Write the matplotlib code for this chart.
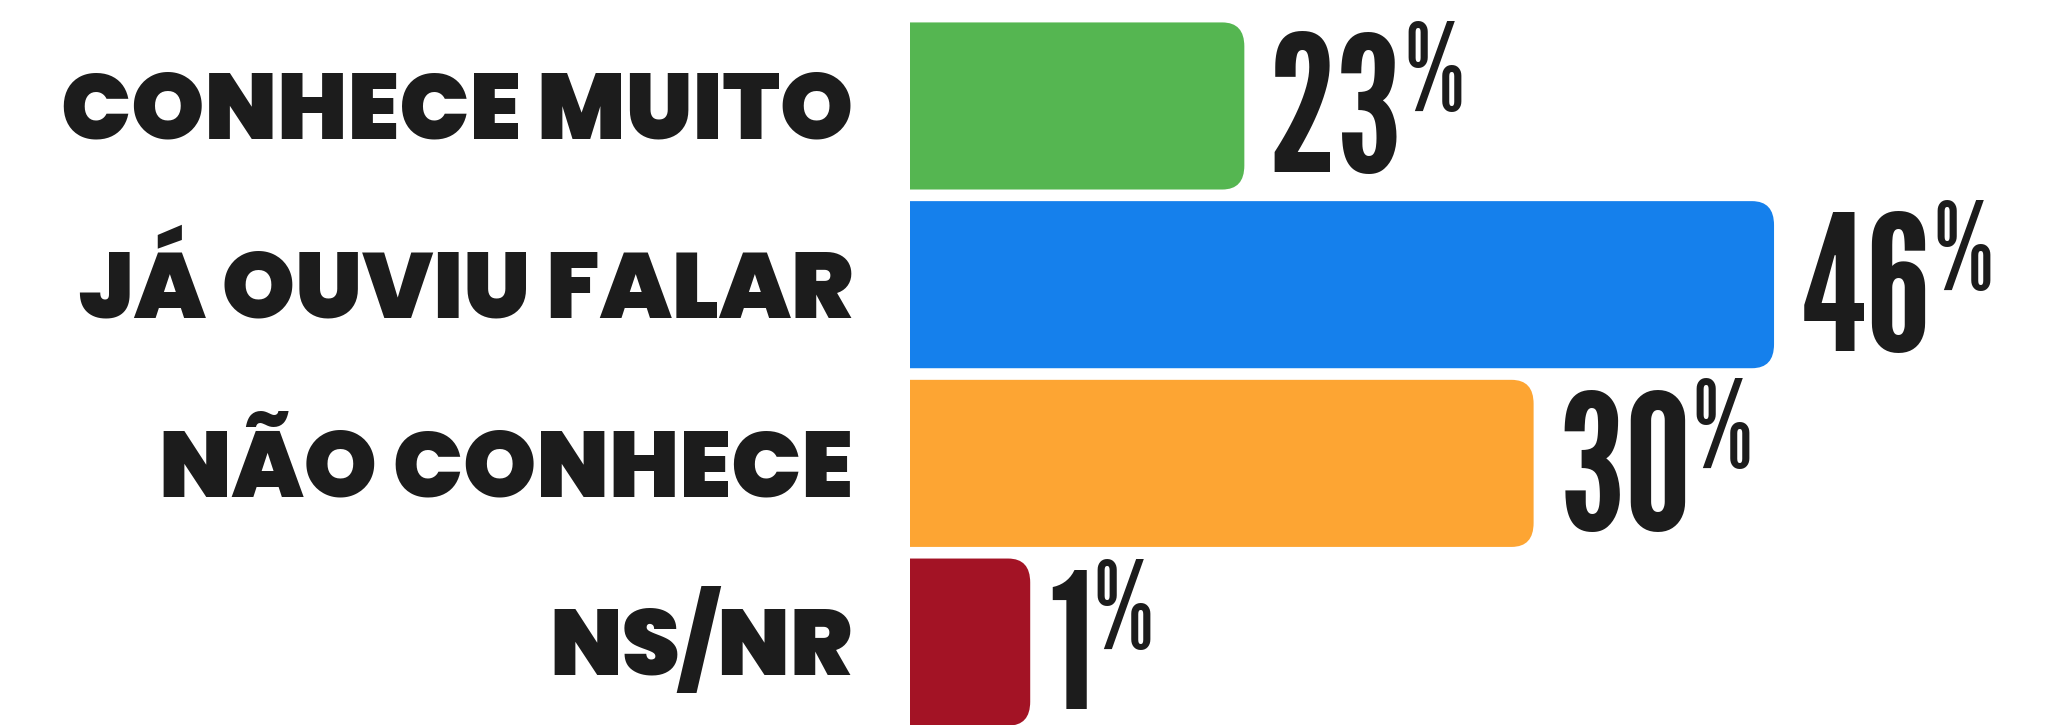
import matplotlib
matplotlib.use("Agg")
import matplotlib.pyplot as plt
from matplotlib import font_manager as fm
from matplotlib.patches import PathPatch
from matplotlib.path import Path
from matplotlib.textpath import TextPath

# ------------------------------------------------------------------
# Data
# ------------------------------------------------------------------
categories = ["CONHECE MUITO", "JÁ OUVIU FALAR", "NÃO CONHECE", "NS/NR"]
values = [23, 46, 30, 1]
# the source graphic does not draw its bars to scale: these are the
# lengths as drawn, in the units of the 46% bar
bar_lengths = [17.8, 46.0, 33.2, 6.4]
colors = ["#55B651", "#1580EC", "#FDA533", "#A31325"]
TEXT = "#1C1C1C"


# ------------------------------------------------------------------
# Fonts: heavy geometric for the labels, heavy condensed for the numbers
# ------------------------------------------------------------------
def pick_font(prefs, fallback):
    by_name = {}
    for f in fm.fontManager.ttflist:
        w = f.weight if isinstance(f.weight, int) else 400
        by_name.setdefault(f.name, []).append((w, f))
    for name, min_w, want in prefs:
        cands = [(w, f) for w, f in by_name.get(name, []) if w >= min_w and "Italic" not in f.fname]
        if cands:
            w, f = min(cands, key=lambda t: abs(t[0] - want))
            return fm.FontProperties(fname=f.fname)
    return fallback


label_fp = pick_font([("Montserrat", 800, 900), ("Gotham", 800, 900), ("Poppins", 800, 900),
                      ("Nunito Sans", 800, 900), ("Work Sans", 800, 900)],
                     fm.FontProperties(family="DejaVu Sans", weight="bold"))
num_fp = pick_font([("League Gothic", 0, 400), ("Bebas Neue", 0, 400), ("Antonio", 600, 700),
                    ("Oswald", 600, 700), ("Anton", 0, 400), ("Fjalla One", 0, 400),
                    ("Barlow Condensed", 700, 800), ("Saira Extra Condensed", 700, 800),
                    ("Fira Sans Extra Condensed", 700, 800), ("Roboto Condensed", 700, 700),
                    ("Open Sans Condensed", 700, 700), ("Fira Sans Condensed", 700, 800),
                    ("Archivo Narrow", 700, 700), ("PT Sans Narrow", 700, 700),
                    ("Liberation Sans Narrow", 700, 700), ("DejaVu Sans Condensed", 700, 700)],
                   fm.FontProperties(family="DejaVu Sans", weight="bold"))


def ink(s, fp, size=100.0):
    return TextPath((0, 0), s, size=size, prop=fp).get_extents()


PT = 72 / 100  # points per pixel at dpi 100

# labels: caps 66 px high, widest label at most 823 px wide
hb = ink("H", label_fp)
wb = ink(categories[0], label_fp)
lab_fs = min(66 * PT * 100 / hb.height, 823 * PT * 100 / wb.width)
cap_pt = hb.ymax * lab_fs / 100

# numbers: digits 142 px high, percent sign about 90 px high
db = ink("46", num_fp)
pb = ink("%", num_fp)
num_fs = 142 * PT * 100 / db.height
pct_fs = 90 * PT * 100 / pb.height
total = db.width * num_fs / 100 + 8 + pb.width * pct_fs / 100
limit = 250 * PT
if total > limit:
    num_fs *= limit / total
    pct_fs *= limit / total

# ------------------------------------------------------------------
# Figure
# ------------------------------------------------------------------
W, H, DPI = 2068, 725, 100
fig = plt.figure(figsize=(W / DPI, H / DPI), dpi=DPI)
left = 910 / W
ax = fig.add_axes([left, 0, 1 - left, 1])
ax.set_xlim(0, 61.65)
ax.set_ylim(3.464, -0.593)
ax.set_axis_off()

x_px = W * (1 - left) / 61.65
y_px = H / (3.464 + 0.593)

# bars: square on the left, rounded corners on the right
bar_h = 0.935
rx = 22 / x_px
ry = 24 / y_px
bars = ax.barh(range(len(categories)), bar_lengths, height=bar_h, color=colors)
for rect, c in zip(bars, colors):
    x0, y0 = rect.get_x(), rect.get_y()
    x1, y1 = x0 + rect.get_width(), y0 + rect.get_height()
    verts = [(x0, y0), (x1 - rx, y0), (x1, y0), (x1, y0 + ry), (x1, y1 - ry),
             (x1, y1), (x1 - rx, y1), (x0, y1), (x0, y0)]
    codes = [Path.MOVETO, Path.LINETO, Path.CURVE3, Path.CURVE3, Path.LINETO,
             Path.CURVE3, Path.CURVE3, Path.LINETO, Path.CLOSEPOLY]
    rect.set_visible(False)
    ax.add_patch(PathPatch(Path(verts, codes), facecolor=c, edgecolor="none"))

# category labels, right-aligned 57 px left of the bars, caps centred on the bar
for i, cat in enumerate(categories):
    ax.annotate(cat, xy=(0, i), xycoords=("axes fraction", "data"),
                xytext=(-57 * PT, -cap_pt / 2), textcoords="offset points",
                ha="right", va="baseline", fontproperties=label_fp,
                fontsize=lab_fs, color=TEXT)

# value labels: big condensed number with a raised percent sign
for i, (v, L) in enumerate(zip(values, bar_lengths)):
    nb = ink(str(v), num_fp, num_fs)
    pp = ink("%", num_fp, pct_fs)
    gap = 30 * PT if v >= 10 else 22 * PT
    base = 3 * PT - (nb.ymin + nb.ymax) / 2
    ax.annotate(str(v), xy=(L, i), xytext=(gap - nb.xmin, base), textcoords="offset points",
                ha="left", va="baseline", fontproperties=num_fp, fontsize=num_fs, color=TEXT)
    px = gap + nb.width + 11 * PT - pp.xmin
    py = base + nb.ymax + 11 * PT - pp.ymax
    ax.annotate("%", xy=(L, i), xytext=(px, py), textcoords="offset points",
                ha="left", va="baseline", fontproperties=num_fp, fontsize=pct_fs, color=TEXT)

fig.savefig("out.png", dpi=DPI, facecolor="white")
